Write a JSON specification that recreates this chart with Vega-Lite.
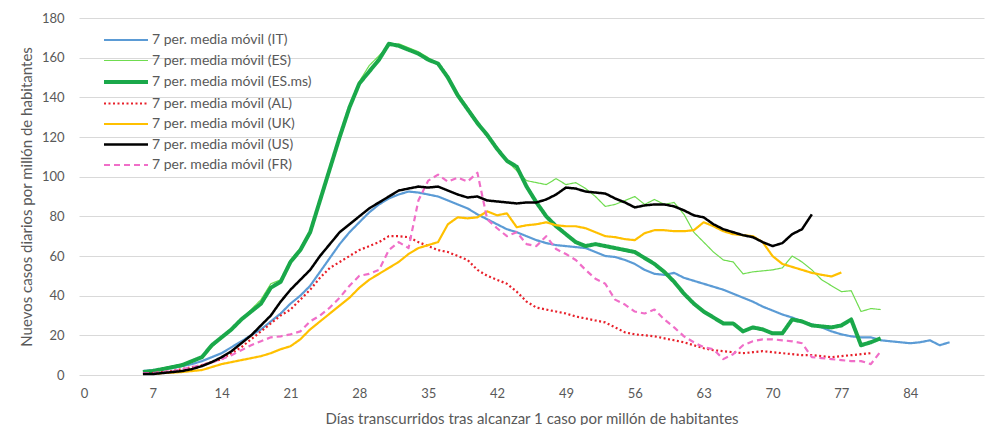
{
"$schema": "https://vega.github.io/schema/vega-lite/v6.json",
"width": 905, "height": 357,
"autosize": {"type": "none"},
"padding": {"left": 79, "top": 18, "right": 3, "bottom": 50},
"background": "white",
"config": {"view": {"stroke": null}, "font": "Lato",
 "axis": {"labelColor": "#595959", "titleColor": "#595959", "labelFontSize": 13, "titleFontSize": 15, "titleFontWeight": "normal", "labelFont": "Lato", "titleFont": "Lato"}},
"datasets": {"d": [
{"s":"IT","d":6,"v":2},{"s":"IT","d":7,"v":2.5},{"s":"IT","d":8,"v":3},{"s":"IT","d":9,"v":3.5},{"s":"IT","d":10,"v":4.5},{"s":"IT","d":11,"v":5.5},{"s":"IT","d":12,"v":7},{"s":"IT","d":13,"v":9},{"s":"IT","d":14,"v":11},{"s":"IT","d":15,"v":14},{"s":"IT","d":16,"v":17},{"s":"IT","d":17,"v":20},{"s":"IT","d":18,"v":23},{"s":"IT","d":19,"v":27},{"s":"IT","d":20,"v":31},{"s":"IT","d":21,"v":36},{"s":"IT","d":22,"v":40},{"s":"IT","d":23,"v":45},{"s":"IT","d":24,"v":52},{"s":"IT","d":25,"v":59},{"s":"IT","d":26,"v":66},{"s":"IT","d":27,"v":72},{"s":"IT","d":28,"v":77},{"s":"IT","d":29,"v":82},{"s":"IT","d":30,"v":86},{"s":"IT","d":31,"v":89},{"s":"IT","d":32,"v":91},{"s":"IT","d":33,"v":92.5},{"s":"IT","d":34,"v":92},{"s":"IT","d":35,"v":91},{"s":"IT","d":36,"v":90},{"s":"IT","d":37,"v":88},{"s":"IT","d":38,"v":86},{"s":"IT","d":39,"v":84},{"s":"IT","d":40,"v":81},{"s":"IT","d":41,"v":78.5},{"s":"IT","d":42,"v":76},{"s":"IT","d":43,"v":73.5},{"s":"IT","d":44,"v":72},{"s":"IT","d":45,"v":70},{"s":"IT","d":46,"v":68},{"s":"IT","d":47,"v":66.5},{"s":"IT","d":48,"v":65.5},{"s":"IT","d":49,"v":65},{"s":"IT","d":50,"v":64.5},{"s":"IT","d":51,"v":64},{"s":"IT","d":52,"v":62},{"s":"IT","d":53,"v":60},{"s":"IT","d":54,"v":59.5},{"s":"IT","d":55,"v":58},{"s":"IT","d":56,"v":56},{"s":"IT","d":57,"v":53},{"s":"IT","d":58,"v":51},{"s":"IT","d":59,"v":50.5},{"s":"IT","d":60,"v":51.5},{"s":"IT","d":61,"v":49},{"s":"IT","d":62,"v":47.5},{"s":"IT","d":63,"v":46},{"s":"IT","d":64,"v":44.5},{"s":"IT","d":65,"v":43},{"s":"IT","d":66,"v":41},{"s":"IT","d":67,"v":39},{"s":"IT","d":68,"v":37},{"s":"IT","d":69,"v":34.5},{"s":"IT","d":70,"v":32.5},{"s":"IT","d":71,"v":30.5},{"s":"IT","d":72,"v":29},{"s":"IT","d":73,"v":27},{"s":"IT","d":74,"v":25.5},{"s":"IT","d":75,"v":24},{"s":"IT","d":76,"v":22},{"s":"IT","d":77,"v":20.5},{"s":"IT","d":78,"v":19.5},{"s":"IT","d":79,"v":19},{"s":"IT","d":80,"v":19},{"s":"IT","d":81,"v":17.5},{"s":"IT","d":82,"v":17},{"s":"IT","d":83,"v":16.5},{"s":"IT","d":84,"v":16},{"s":"IT","d":85,"v":16.5},{"s":"IT","d":86,"v":17.5},{"s":"IT","d":87,"v":15},{"s":"IT","d":88,"v":16.5},
{"s":"ES","d":6,"v":1.5},{"s":"ES","d":7,"v":2},{"s":"ES","d":8,"v":3},{"s":"ES","d":9,"v":4},{"s":"ES","d":10,"v":5},{"s":"ES","d":11,"v":7},{"s":"ES","d":12,"v":9},{"s":"ES","d":13,"v":14},{"s":"ES","d":14,"v":19},{"s":"ES","d":15,"v":23},{"s":"ES","d":16,"v":28},{"s":"ES","d":17,"v":33},{"s":"ES","d":18,"v":38},{"s":"ES","d":19,"v":46},{"s":"ES","d":20,"v":48},{"s":"ES","d":21,"v":58},{"s":"ES","d":22,"v":64},{"s":"ES","d":23,"v":73},{"s":"ES","d":24,"v":89},{"s":"ES","d":25,"v":105},{"s":"ES","d":26,"v":121},{"s":"ES","d":27,"v":136},{"s":"ES","d":28,"v":148},{"s":"ES","d":29,"v":156},{"s":"ES","d":30,"v":161},{"s":"ES","d":31,"v":166},{"s":"ES","d":32,"v":167},{"s":"ES","d":33,"v":165},{"s":"ES","d":34,"v":163},{"s":"ES","d":35,"v":160},{"s":"ES","d":36,"v":157},{"s":"ES","d":37,"v":151},{"s":"ES","d":38,"v":142},{"s":"ES","d":39,"v":135},{"s":"ES","d":40,"v":128},{"s":"ES","d":41,"v":121},{"s":"ES","d":42,"v":115},{"s":"ES","d":43,"v":108},{"s":"ES","d":44,"v":103},{"s":"ES","d":45,"v":98},{"s":"ES","d":46,"v":97},{"s":"ES","d":47,"v":96},{"s":"ES","d":48,"v":99},{"s":"ES","d":49,"v":96},{"s":"ES","d":50,"v":97},{"s":"ES","d":51,"v":94},{"s":"ES","d":52,"v":90},{"s":"ES","d":53,"v":85},{"s":"ES","d":54,"v":86},{"s":"ES","d":55,"v":88},{"s":"ES","d":56,"v":90},{"s":"ES","d":57,"v":86},{"s":"ES","d":58,"v":88.5},{"s":"ES","d":59,"v":86},{"s":"ES","d":60,"v":87},{"s":"ES","d":61,"v":81},{"s":"ES","d":62,"v":72},{"s":"ES","d":63,"v":67},{"s":"ES","d":64,"v":62},{"s":"ES","d":65,"v":58},{"s":"ES","d":66,"v":57},{"s":"ES","d":67,"v":51},{"s":"ES","d":68,"v":52},{"s":"ES","d":69,"v":52.5},{"s":"ES","d":70,"v":53},{"s":"ES","d":71,"v":54},{"s":"ES","d":72,"v":60},{"s":"ES","d":73,"v":57},{"s":"ES","d":74,"v":53},{"s":"ES","d":75,"v":48},{"s":"ES","d":76,"v":45},{"s":"ES","d":77,"v":42},{"s":"ES","d":78,"v":42.5},{"s":"ES","d":79,"v":32},{"s":"ES","d":80,"v":33.5},{"s":"ES","d":81,"v":33},
{"s":"ES.ms","d":6,"v":1.5},{"s":"ES.ms","d":7,"v":2},{"s":"ES.ms","d":8,"v":3},{"s":"ES.ms","d":9,"v":4},{"s":"ES.ms","d":10,"v":5},{"s":"ES.ms","d":11,"v":7},{"s":"ES.ms","d":12,"v":9},{"s":"ES.ms","d":13,"v":15},{"s":"ES.ms","d":14,"v":19},{"s":"ES.ms","d":15,"v":23},{"s":"ES.ms","d":16,"v":28},{"s":"ES.ms","d":17,"v":32},{"s":"ES.ms","d":18,"v":36},{"s":"ES.ms","d":19,"v":44},{"s":"ES.ms","d":20,"v":47},{"s":"ES.ms","d":21,"v":57},{"s":"ES.ms","d":22,"v":63},{"s":"ES.ms","d":23,"v":72},{"s":"ES.ms","d":24,"v":88},{"s":"ES.ms","d":25,"v":104},{"s":"ES.ms","d":26,"v":120},{"s":"ES.ms","d":27,"v":135},{"s":"ES.ms","d":28,"v":147},{"s":"ES.ms","d":29,"v":153},{"s":"ES.ms","d":30,"v":159},{"s":"ES.ms","d":31,"v":167},{"s":"ES.ms","d":32,"v":166},{"s":"ES.ms","d":33,"v":164},{"s":"ES.ms","d":34,"v":162},{"s":"ES.ms","d":35,"v":159},{"s":"ES.ms","d":36,"v":157},{"s":"ES.ms","d":37,"v":150},{"s":"ES.ms","d":38,"v":141},{"s":"ES.ms","d":39,"v":134},{"s":"ES.ms","d":40,"v":127},{"s":"ES.ms","d":41,"v":121},{"s":"ES.ms","d":42,"v":114},{"s":"ES.ms","d":43,"v":108},{"s":"ES.ms","d":44,"v":105},{"s":"ES.ms","d":45,"v":95},{"s":"ES.ms","d":46,"v":87},{"s":"ES.ms","d":47,"v":80},{"s":"ES.ms","d":48,"v":75},{"s":"ES.ms","d":49,"v":71},{"s":"ES.ms","d":50,"v":67},{"s":"ES.ms","d":51,"v":65},{"s":"ES.ms","d":52,"v":66},{"s":"ES.ms","d":53,"v":65},{"s":"ES.ms","d":54,"v":64},{"s":"ES.ms","d":55,"v":63},{"s":"ES.ms","d":56,"v":62},{"s":"ES.ms","d":57,"v":59},{"s":"ES.ms","d":58,"v":56},{"s":"ES.ms","d":59,"v":52},{"s":"ES.ms","d":60,"v":47},{"s":"ES.ms","d":61,"v":41},{"s":"ES.ms","d":62,"v":36},{"s":"ES.ms","d":63,"v":32},{"s":"ES.ms","d":64,"v":29},{"s":"ES.ms","d":65,"v":26},{"s":"ES.ms","d":66,"v":26},{"s":"ES.ms","d":67,"v":22},{"s":"ES.ms","d":68,"v":24},{"s":"ES.ms","d":69,"v":23},{"s":"ES.ms","d":70,"v":21},{"s":"ES.ms","d":71,"v":21},{"s":"ES.ms","d":72,"v":28},{"s":"ES.ms","d":73,"v":27},{"s":"ES.ms","d":74,"v":25},{"s":"ES.ms","d":75,"v":24.5},{"s":"ES.ms","d":76,"v":24},{"s":"ES.ms","d":77,"v":25},{"s":"ES.ms","d":78,"v":28},{"s":"ES.ms","d":79,"v":15},{"s":"ES.ms","d":80,"v":16.5},{"s":"ES.ms","d":81,"v":18.5},
{"s":"AL","d":6,"v":1},{"s":"AL","d":7,"v":1},{"s":"AL","d":8,"v":1.5},{"s":"AL","d":9,"v":2},{"s":"AL","d":10,"v":3},{"s":"AL","d":11,"v":4},{"s":"AL","d":12,"v":5},{"s":"AL","d":13,"v":6.5},{"s":"AL","d":14,"v":8},{"s":"AL","d":15,"v":11},{"s":"AL","d":16,"v":14},{"s":"AL","d":17,"v":18},{"s":"AL","d":18,"v":22},{"s":"AL","d":19,"v":26},{"s":"AL","d":20,"v":30},{"s":"AL","d":21,"v":33},{"s":"AL","d":22,"v":38},{"s":"AL","d":23,"v":43},{"s":"AL","d":24,"v":49},{"s":"AL","d":25,"v":54},{"s":"AL","d":26,"v":57},{"s":"AL","d":27,"v":60},{"s":"AL","d":28,"v":63},{"s":"AL","d":29,"v":65},{"s":"AL","d":30,"v":67},{"s":"AL","d":31,"v":70},{"s":"AL","d":32,"v":70},{"s":"AL","d":33,"v":69.5},{"s":"AL","d":34,"v":67},{"s":"AL","d":35,"v":65},{"s":"AL","d":36,"v":63},{"s":"AL","d":37,"v":62},{"s":"AL","d":38,"v":60},{"s":"AL","d":39,"v":58},{"s":"AL","d":40,"v":53},{"s":"AL","d":41,"v":50},{"s":"AL","d":42,"v":48},{"s":"AL","d":43,"v":46},{"s":"AL","d":44,"v":42},{"s":"AL","d":45,"v":37},{"s":"AL","d":46,"v":34},{"s":"AL","d":47,"v":33},{"s":"AL","d":48,"v":32},{"s":"AL","d":49,"v":31},{"s":"AL","d":50,"v":29.5},{"s":"AL","d":51,"v":28.5},{"s":"AL","d":52,"v":27.5},{"s":"AL","d":53,"v":26.5},{"s":"AL","d":54,"v":24},{"s":"AL","d":55,"v":21.5},{"s":"AL","d":56,"v":20.5},{"s":"AL","d":57,"v":20},{"s":"AL","d":58,"v":19.5},{"s":"AL","d":59,"v":18.5},{"s":"AL","d":60,"v":17.5},{"s":"AL","d":61,"v":16.5},{"s":"AL","d":62,"v":15},{"s":"AL","d":63,"v":13.5},{"s":"AL","d":64,"v":12.5},{"s":"AL","d":65,"v":12},{"s":"AL","d":66,"v":11.5},{"s":"AL","d":67,"v":11},{"s":"AL","d":68,"v":11.5},{"s":"AL","d":69,"v":12},{"s":"AL","d":70,"v":11.5},{"s":"AL","d":71,"v":11},{"s":"AL","d":72,"v":10.5},{"s":"AL","d":73,"v":10},{"s":"AL","d":74,"v":10},{"s":"AL","d":75,"v":9.5},{"s":"AL","d":76,"v":9},{"s":"AL","d":77,"v":9.5},{"s":"AL","d":78,"v":10},{"s":"AL","d":79,"v":10.5},{"s":"AL","d":80,"v":11},
{"s":"UK","d":6,"v":0.5},{"s":"UK","d":7,"v":0.5},{"s":"UK","d":8,"v":1},{"s":"UK","d":9,"v":1.2},{"s":"UK","d":10,"v":1.5},{"s":"UK","d":11,"v":2},{"s":"UK","d":12,"v":2.5},{"s":"UK","d":13,"v":4},{"s":"UK","d":14,"v":5.5},{"s":"UK","d":15,"v":6.5},{"s":"UK","d":16,"v":7.5},{"s":"UK","d":17,"v":8.5},{"s":"UK","d":18,"v":9.5},{"s":"UK","d":19,"v":11},{"s":"UK","d":20,"v":13},{"s":"UK","d":21,"v":14.5},{"s":"UK","d":22,"v":18},{"s":"UK","d":23,"v":23},{"s":"UK","d":24,"v":27},{"s":"UK","d":25,"v":31},{"s":"UK","d":26,"v":35},{"s":"UK","d":27,"v":39},{"s":"UK","d":28,"v":44},{"s":"UK","d":29,"v":48},{"s":"UK","d":30,"v":51},{"s":"UK","d":31,"v":54},{"s":"UK","d":32,"v":57},{"s":"UK","d":33,"v":61},{"s":"UK","d":34,"v":64},{"s":"UK","d":35,"v":65.5},{"s":"UK","d":36,"v":67},{"s":"UK","d":37,"v":76},{"s":"UK","d":38,"v":79.5},{"s":"UK","d":39,"v":79},{"s":"UK","d":40,"v":79.5},{"s":"UK","d":41,"v":82.5},{"s":"UK","d":42,"v":80.5},{"s":"UK","d":43,"v":81.5},{"s":"UK","d":44,"v":74.5},{"s":"UK","d":45,"v":75.5},{"s":"UK","d":46,"v":76},{"s":"UK","d":47,"v":77},{"s":"UK","d":48,"v":75.5},{"s":"UK","d":49,"v":75},{"s":"UK","d":50,"v":75},{"s":"UK","d":51,"v":74},{"s":"UK","d":52,"v":72},{"s":"UK","d":53,"v":70},{"s":"UK","d":54,"v":69.5},{"s":"UK","d":55,"v":68.5},{"s":"UK","d":56,"v":68},{"s":"UK","d":57,"v":71.5},{"s":"UK","d":58,"v":73},{"s":"UK","d":59,"v":73},{"s":"UK","d":60,"v":72.5},{"s":"UK","d":61,"v":72.5},{"s":"UK","d":62,"v":73},{"s":"UK","d":63,"v":77},{"s":"UK","d":64,"v":75},{"s":"UK","d":65,"v":72.5},{"s":"UK","d":66,"v":71},{"s":"UK","d":67,"v":70.5},{"s":"UK","d":68,"v":70},{"s":"UK","d":69,"v":67},{"s":"UK","d":70,"v":60},{"s":"UK","d":71,"v":56},{"s":"UK","d":72,"v":54.5},{"s":"UK","d":73,"v":53},{"s":"UK","d":74,"v":51.5},{"s":"UK","d":75,"v":50.5},{"s":"UK","d":76,"v":49.7},{"s":"UK","d":77,"v":51.7},
{"s":"US","d":6,"v":0.5},{"s":"US","d":7,"v":0.5},{"s":"US","d":8,"v":1},{"s":"US","d":9,"v":1.5},{"s":"US","d":10,"v":2},{"s":"US","d":11,"v":3},{"s":"US","d":12,"v":4.5},{"s":"US","d":13,"v":6.5},{"s":"US","d":14,"v":9},{"s":"US","d":15,"v":12},{"s":"US","d":16,"v":16},{"s":"US","d":17,"v":20},{"s":"US","d":18,"v":25},{"s":"US","d":19,"v":30},{"s":"US","d":20,"v":37},{"s":"US","d":21,"v":43},{"s":"US","d":22,"v":48},{"s":"US","d":23,"v":53},{"s":"US","d":24,"v":60},{"s":"US","d":25,"v":66},{"s":"US","d":26,"v":72},{"s":"US","d":27,"v":76},{"s":"US","d":28,"v":80},{"s":"US","d":29,"v":84},{"s":"US","d":30,"v":87},{"s":"US","d":31,"v":90},{"s":"US","d":32,"v":93},{"s":"US","d":33,"v":94},{"s":"US","d":34,"v":95},{"s":"US","d":35,"v":94.5},{"s":"US","d":36,"v":95},{"s":"US","d":37,"v":93},{"s":"US","d":38,"v":91},{"s":"US","d":39,"v":89.5},{"s":"US","d":40,"v":90},{"s":"US","d":41,"v":88},{"s":"US","d":42,"v":87.5},{"s":"US","d":43,"v":87},{"s":"US","d":44,"v":86.5},{"s":"US","d":45,"v":87},{"s":"US","d":46,"v":87},{"s":"US","d":47,"v":88.5},{"s":"US","d":48,"v":91},{"s":"US","d":49,"v":94.5},{"s":"US","d":50,"v":94},{"s":"US","d":51,"v":92.5},{"s":"US","d":52,"v":92},{"s":"US","d":53,"v":91.5},{"s":"US","d":54,"v":89},{"s":"US","d":55,"v":87},{"s":"US","d":56,"v":84.5},{"s":"US","d":57,"v":85.5},{"s":"US","d":58,"v":86},{"s":"US","d":59,"v":86},{"s":"US","d":60,"v":85},{"s":"US","d":61,"v":83},{"s":"US","d":62,"v":80.5},{"s":"US","d":63,"v":79.5},{"s":"US","d":64,"v":76},{"s":"US","d":65,"v":73.5},{"s":"US","d":66,"v":72},{"s":"US","d":67,"v":70.5},{"s":"US","d":68,"v":69.5},{"s":"US","d":69,"v":67},{"s":"US","d":70,"v":65},{"s":"US","d":71,"v":66.5},{"s":"US","d":72,"v":71},{"s":"US","d":73,"v":73.5},{"s":"US","d":74,"v":81},
{"s":"FR","d":6,"v":1},{"s":"FR","d":7,"v":1},{"s":"FR","d":8,"v":1.5},{"s":"FR","d":9,"v":2},{"s":"FR","d":10,"v":3},{"s":"FR","d":11,"v":4},{"s":"FR","d":12,"v":5},{"s":"FR","d":13,"v":6.5},{"s":"FR","d":14,"v":8},{"s":"FR","d":15,"v":10},{"s":"FR","d":16,"v":12.5},{"s":"FR","d":17,"v":15},{"s":"FR","d":18,"v":17},{"s":"FR","d":19,"v":19},{"s":"FR","d":20,"v":19.5},{"s":"FR","d":21,"v":20.5},{"s":"FR","d":22,"v":22},{"s":"FR","d":23,"v":27},{"s":"FR","d":24,"v":30},{"s":"FR","d":25,"v":34},{"s":"FR","d":26,"v":39},{"s":"FR","d":27,"v":45},{"s":"FR","d":28,"v":50},{"s":"FR","d":29,"v":51},{"s":"FR","d":30,"v":53},{"s":"FR","d":31,"v":63},{"s":"FR","d":32,"v":67},{"s":"FR","d":33,"v":64},{"s":"FR","d":34,"v":88},{"s":"FR","d":35,"v":98},{"s":"FR","d":36,"v":101},{"s":"FR","d":37,"v":97.5},{"s":"FR","d":38,"v":99.5},{"s":"FR","d":39,"v":97.5},{"s":"FR","d":40,"v":102},{"s":"FR","d":41,"v":78.5},{"s":"FR","d":42,"v":74},{"s":"FR","d":43,"v":70},{"s":"FR","d":44,"v":72},{"s":"FR","d":45,"v":66},{"s":"FR","d":46,"v":65},{"s":"FR","d":47,"v":70},{"s":"FR","d":48,"v":63.5},{"s":"FR","d":49,"v":61},{"s":"FR","d":50,"v":58},{"s":"FR","d":51,"v":53},{"s":"FR","d":52,"v":48.5},{"s":"FR","d":53,"v":46},{"s":"FR","d":54,"v":38},{"s":"FR","d":55,"v":35.5},{"s":"FR","d":56,"v":32},{"s":"FR","d":57,"v":31},{"s":"FR","d":58,"v":33},{"s":"FR","d":59,"v":28},{"s":"FR","d":60,"v":24},{"s":"FR","d":61,"v":19.5},{"s":"FR","d":62,"v":16.5},{"s":"FR","d":63,"v":14},{"s":"FR","d":64,"v":13},{"s":"FR","d":65,"v":8},{"s":"FR","d":66,"v":10.5},{"s":"FR","d":67,"v":15},{"s":"FR","d":68,"v":17},{"s":"FR","d":69,"v":18},{"s":"FR","d":70,"v":18},{"s":"FR","d":71,"v":17.5},{"s":"FR","d":72,"v":17},{"s":"FR","d":73,"v":16},{"s":"FR","d":74,"v":9},{"s":"FR","d":75,"v":8.5},{"s":"FR","d":76,"v":8},{"s":"FR","d":77,"v":7.5},{"s":"FR","d":78,"v":7},{"s":"FR","d":79,"v":7},{"s":"FR","d":80,"v":5.5},{"s":"FR","d":81,"v":12}
]},
"data": {"name": "d"},
"encoding": {
 "x": {"field": "d", "type": "quantitative",
  "scale": {"domain": [-0.5, 91.5], "nice": false, "zero": false},
  "axis": {"values": [0,7,14,21,28,35,42,49,56,63,70,77,84], "grid": false, "ticks": false, "domain": false, "labelPadding": 12, "titlePadding": 11,
   "title": "Días transcurridos tras alcanzar 1 caso por millón de habitantes"}},
 "y": {"field": "v", "type": "quantitative",
  "scale": {"domain": [0, 180], "nice": false},
  "axis": {"values": [0,20,40,60,80,100,120,140,160,180], "grid": true, "gridColor": "#D9D9D9", "gridWidth": 1, "ticks": false, "domain": false, "labelPadding": 15, "titlePadding": 7,
   "title": "Nuevos casos diarios por millón de habitantes"}},
 "color": {"field": "s", "type": "nominal",
  "scale": {"domain": ["IT","ES","ES.ms","AL","UK","US","FR"], "range": ["#5B9BD5","#6FDC4F","#1AA84A","#E8202A","#FFC000","#000000","#F06EC8"]},
  "legend": {"orient": "none", "legendX": 40, "legendY": 15, "title": null, "padding": 0,
   "labelExpr": "'7 per. media móvil (' + datum.label + ')'",
   "symbolType": "M-4,0H4", "symbolSize": 121, "labelOffset": 19, "labelFontSize": 14, "labelColor": "#595959", "labelFont": "Lato", "rowPadding": 6.5,
   "encode": {"symbols": {"enter": {"strokeWidth": {"signal": "datum.value === 'ES.ms' ? 4 : datum.value === 'ES' ? 1.2 : datum.value === 'US' ? 2.5 : 2.2"}}, "update": {"strokeWidth": {"signal": "datum.value === 'ES.ms' ? 4 : datum.value === 'ES' ? 1.2 : datum.value === 'US' ? 2.5 : 2.2"}}}}}},
 "strokeDash": {"field": "s", "type": "nominal",
  "scale": {"domain": ["IT","ES","ES.ms","AL","UK","US","FR"], "range": [[1,0],[1,0],[1,0],[2,2.5],[1,0],[1,0],[6,4]]}}
},
"layer": [
 {"transform": [{"filter": "datum.s === 'IT'"}], "mark": {"type": "line", "strokeJoin": "round", "strokeWidth": 2.2}},
 {"transform": [{"filter": "datum.s === 'ES'"}], "mark": {"type": "line", "strokeJoin": "round", "strokeWidth": 1.2}},
 {"transform": [{"filter": "datum.s === 'ES.ms'"}], "mark": {"type": "line", "strokeJoin": "round", "strokeWidth": 4}},
 {"transform": [{"filter": "datum.s === 'AL' || datum.s === 'UK' || datum.s === 'FR'"}], "mark": {"type": "line", "strokeJoin": "round", "strokeWidth": 2.2}},
 {"transform": [{"filter": "datum.s === 'US'"}], "mark": {"type": "line", "strokeJoin": "round", "strokeWidth": 2.5}}
]
}
